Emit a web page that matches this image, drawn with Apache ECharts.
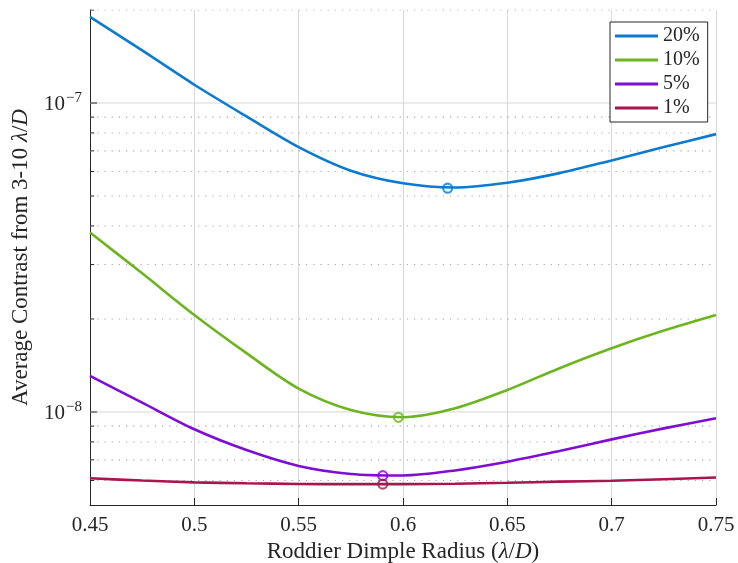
<!DOCTYPE html>
<html>
<head>
<meta charset="utf-8">
<script src="https://cdn.jsdelivr.net/npm/echarts@6/dist/echarts.min.js"></script>
<style>html,body{margin:0;padding:0;background:#fff}#c{width:738px;height:563px}</style>
</head>
<body>
<div id="c"></div>
<script>
var xVals = [0.45, 0.475, 0.5, 0.525, 0.55, 0.575, 0.6, 0.625, 0.65, 0.675, 0.7, 0.725, 0.75];
var s20 = [1.90e-7, 1.48e-7, 1.146e-7, 9.05e-8, 7.2e-8, 6.04e-8, 5.5e-8, 5.33e-8, 5.52e-8, 5.93e-8, 6.52e-8, 7.2e-8, 7.93e-8];
var s10 = [3.81e-8, 2.81e-8, 2.06e-8, 1.55e-8, 1.19e-8, 1.015e-8, 9.62e-9, 1.028e-8, 1.178e-8, 1.386e-8, 1.608e-8, 1.834e-8, 2.06e-8];
var s5 = [1.308e-8, 1.072e-8, 8.79e-9, 7.53e-9, 6.69e-9, 6.30e-9, 6.23e-9, 6.47e-9, 6.90e-9, 7.48e-9, 8.155e-9, 8.85e-9, 9.54e-9];
var s1 = [6.10e-9, 6.00e-9, 5.92e-9, 5.88e-9, 5.85e-9, 5.84e-9, 5.84e-9, 5.86e-9, 5.90e-9, 5.95e-9, 5.99e-9, 6.06e-9, 6.14e-9];
var seriesNames = ['20%', '10%', '5%', '1%'];
var minX = [0.6214, 0.5978, 0.5903, 0.5903];
var minY = [5.30e-8, 9.61e-9, 6.22e-9, 5.84e-9];
var xTicks = [0.45, 0.5, 0.55, 0.6, 0.65, 0.7, 0.75];
var yMajor = [1e-8, 1e-7];
var yMinor = [6e-9, 7e-9, 8e-9, 9e-9, 2e-8, 3e-8, 4e-8, 5e-8, 6e-8, 7e-8, 8e-8, 9e-8, 2e-7];

var colors = ['#0C7BCF', '#6CB521', '#7F0ED4', '#A8154F'];
var allSeries = [s20, s10, s5, s1];
var FONT = 'Liberation Serif';
var X0 = xTicks[0], X1 = xTicks[xTicks.length - 1];

function pairs(ys) { return xVals.map(function (x, i) { return [x, ys[i]]; }); }

var series = [];
function hLine(v, xa, xb, style, z) {
  series.push({
    type: 'line', data: [[xa, v], [xb, v]], z: z, silent: true, symbol: 'none', showSymbol: false,
    lineStyle: style, emphasis: { disabled: true }, tooltip: { show: false }
  });
}
yMajor.forEach(function (v) { hLine(v, X0, X1, { color: '#d8d8d8', width: 1, type: 'solid' }, 1); });
yMinor.forEach(function (v) { hLine(v, X0, X1, { color: '#a6a6a6', width: 1.1, type: [1.2, 6] }, 1); });
yMajor.forEach(function (v) { hLine(v, X0, X0 + 0.0034, { color: '#262626', width: 1, type: 'solid' }, 5); });
yMinor.forEach(function (v) { hLine(v, X0, X0 + 0.002, { color: '#262626', width: 1, type: 'solid' }, 5); });

allSeries.forEach(function (ys, i) {
  series.push({
    name: seriesNames[i], type: 'line', data: pairs(ys), smooth: 0.3, showSymbol: false, symbol: 'none',
    z: 3, lineStyle: { color: colors[i], width: 2.6 }, itemStyle: { color: colors[i] }
  });
});
allSeries.forEach(function (ys, i) {
  series.push({
    type: 'scatter', data: [[minX[i], minY[i]]], symbol: 'circle', symbolSize: 9, z: 4,
    itemStyle: { color: 'rgba(0,0,0,0)', borderColor: colors[i], borderWidth: 2.2 }
  });
});

var chart = echarts.init(document.getElementById('c'), null, { renderer: 'canvas' });
chart.setOption({
  animation: false,
  backgroundColor: '#ffffff',
  grid: { left: 90, right: 22, top: 10, bottom: 58, containLabel: false, outerBoundsMode: 'none' },
  legend: {
    data: seriesNames.map(function (n) { return { name: n, icon: 'rect' }; }),
    orient: 'vertical', left: 610, top: 22, itemWidth: 43, itemHeight: 3, itemGap: 4,
    padding: [4, 8, 4, 5], borderColor: '#262626', borderWidth: 1, backgroundColor: '#fff',
    textStyle: { fontFamily: FONT, fontSize: 20, color: '#262626', lineHeight: 20, padding: [0, 0, 0, 0] }
  },
  xAxis: {
    type: 'value', min: 0.45, max: 0.75, interval: 0.05,
    axisLine: { show: true, lineStyle: { color: '#262626', width: 1 } },
    axisTick: { show: true, inside: true, length: 7, lineStyle: { color: '#262626' } },
    splitLine: { show: true, lineStyle: { color: '#d8d8d8', width: 1 } },
    axisLabel: { fontFamily: FONT, fontSize: 21, color: '#262626', margin: 10,
      formatter: function (v) { return String(+v.toFixed(2)); } },
    name: 'Roddier Dimple Radius ({i|λ}/{i|D})', nameLocation: 'middle', nameGap: 34,
    nameTextStyle: { fontFamily: FONT, fontSize: 23, color: '#262626',
      rich: { i: { fontFamily: FONT, fontSize: 23, fontStyle: 'italic', color: '#262626' } } }
  },
  yAxis: {
    type: 'log', logBase: 10, min: 5e-9, max: 2e-7,
    axisLine: { show: true, lineStyle: { color: '#262626', width: 1 } },
    axisTick: { show: false },
    splitLine: { show: false },
    minorTick: { show: false }, minorSplitLine: { show: false },
    axisLabel: {
      customValues: [1e-8, 1e-7],
      margin: 8, color: '#262626',
      formatter: function (v) {
        var l = Math.log10(v);
        if (Math.abs(l - Math.round(l)) > 1e-6) return '';
        return '{b|10}{s|\u2212' + Math.abs(Math.round(l)) + '}';
      },
      rich: {
        b: { fontFamily: FONT, fontSize: 21, color: '#262626', verticalAlign: 'bottom' },
        s: { fontFamily: FONT, fontSize: 15, color: '#262626', verticalAlign: 'bottom', padding: [0, 0, 9, 1] }
      }
    },
    name: 'Average Contrast from 3-10 {i|λ}/{i|D}', nameLocation: 'middle', nameGap: 58, nameRotate: 90,
    nameTextStyle: { fontFamily: FONT, fontSize: 23, color: '#262626',
      rich: { i: { fontFamily: FONT, fontSize: 23, fontStyle: 'italic', color: '#262626' } } }
  },
  series: series
});
</script>
</body>
</html>
